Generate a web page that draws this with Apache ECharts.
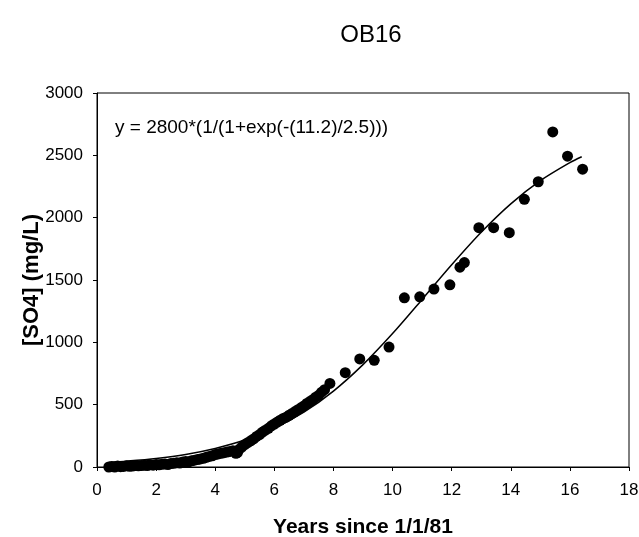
<!DOCTYPE html>
<html>
<head>
<meta charset="utf-8">
<script src="https://cdn.jsdelivr.net/npm/echarts@6/dist/echarts.min.js"></script>
<style>html,body{margin:0;padding:0;background:#fff}#c{width:639px;height:537px}</style>
</head>
<body>
<div id="c"></div>
<script>
// Observed data: years since 1/1/81 and [SO4] (mg/L)
const obsYears = [0.40,0.50,0.60,0.70,0.80,0.90,1.00,1.10,1.20,1.30,1.40,1.50,1.60,1.70,1.80,1.90,2.00,2.10,2.20,2.30,2.40,2.50,2.60,2.70,2.80,2.90,3.00,3.10,3.20,3.30,3.40,3.50,3.60,3.70,3.80,3.90,4.00,4.10,4.20,4.30,4.40,4.50,4.60,4.70,4.75,4.80,4.90,5.00,5.10,5.20,5.30,5.40,5.50,5.60,5.70,5.80,5.90,6.00,6.10,6.20,6.30,6.40,6.50,6.60,6.70,6.80,6.90,7.00,7.10,7.20,7.30,7.40,7.50,7.60,7.70,7.88,8.40,8.89,9.38,9.88,10.40,10.92,11.40,11.94,12.28,12.43,12.92,13.42,13.95,14.46,14.93,15.42,15.92,16.43];
const obsSO4 = [0,5,0,8,3,5,10,6,8,12,10,12,15,12,18,15,20,18,22,25,20,28,30,35,32,40,45,42,50,55,60,65,70,78,85,90,100,105,110,115,120,125,130,110,115,140,160,180,195,210,225,245,260,280,295,310,330,345,360,375,390,400,415,430,445,460,475,490,510,525,540,560,575,600,620,670,757,867,856,962,1357,1365,1427,1461,1603,1640,1920,1920,1880,2147,2288,2688,2493,2389];
// Fitted curve
const fitYears = [0.4,1,2,3,4,5,6,7,8,9,10,11,12,13,14,15,16,16.4];
const fitSO4 = [37,47,69,101,149,216,311,440,609,821,1070,1344,1622,1883,2111,2297,2442,2489];
const xTicks = [0,2,4,6,8,10,12,14,16,18];
const yTicks = [0,500,1000,1500,2000,2500,3000];

const FONT = 'Liberation Sans';
const chart = echarts.init(document.getElementById('c'), null, {renderer:'canvas'});
chart.setOption({
  animation:false,
  backgroundColor:'#fff',
  title:[{
    text:'OB16', left:366, top:18, textAlign:'center',
    textStyle:{fontFamily:FONT, fontSize:24, fontWeight:'normal', color:'#000'}
  },{
    text:'y = 2800*(1/(1+exp(-(11.2)/2.5)))', left:110, top:113,
    textStyle:{fontFamily:FONT, fontSize:19, fontWeight:'normal', color:'#000'}
  }],
  grid:{left:97, right:10, top:93, bottom:70, show:true, borderColor:'#000', borderWidth:1,
        containLabel:false, outerBoundsMode:'none'},
  xAxis:{
    type:'value', min:xTicks[0], max:xTicks[xTicks.length-1], interval:2,
    name:'Years since 1/1/81', nameLocation:'middle', nameGap:50, nameMoveOverlap:false,
    nameTextStyle:{fontFamily:FONT, fontSize:21, fontWeight:'bold', color:'#000'},
    axisLine:{onZero:false, lineStyle:{color:'#000', width:1}},
    axisTick:{inside:false, length:4, lineStyle:{color:'#000'}},
    axisLabel:{fontFamily:FONT, fontSize:17, color:'#000', margin:15, formatter:v=>String(v)},
    splitLine:{show:false}
  },
  yAxis:{
    type:'value', min:yTicks[0], max:yTicks[yTicks.length-1], interval:500,
    name:'[SO4] (mg/L)', nameLocation:'middle', nameGap:54, nameMoveOverlap:false,
    nameTextStyle:{fontFamily:FONT, fontSize:22, fontWeight:'bold', color:'#000'},
    axisLine:{onZero:false, lineStyle:{color:'#000', width:1}},
    axisTick:{inside:false, length:4, lineStyle:{color:'#000'}},
    axisLabel:{fontFamily:FONT, fontSize:17, color:'#000', margin:14, formatter:v=>String(v)},
    splitLine:{show:false}
  },
  series:[{
    type:'line', data:fitYears.map((x,i)=>[x,fitSO4[i]]), smooth:0.3,
    showSymbol:false, symbol:'none', lineStyle:{color:'#000', width:1.5}, z:3
  },{
    type:'scatter', data:obsYears.map((x,i)=>[x,obsSO4[i]]), symbol:'circle', symbolSize:11,
    itemStyle:{color:'#000', opacity:1}, z:2
  }]
});
</script>
</body>
</html>
